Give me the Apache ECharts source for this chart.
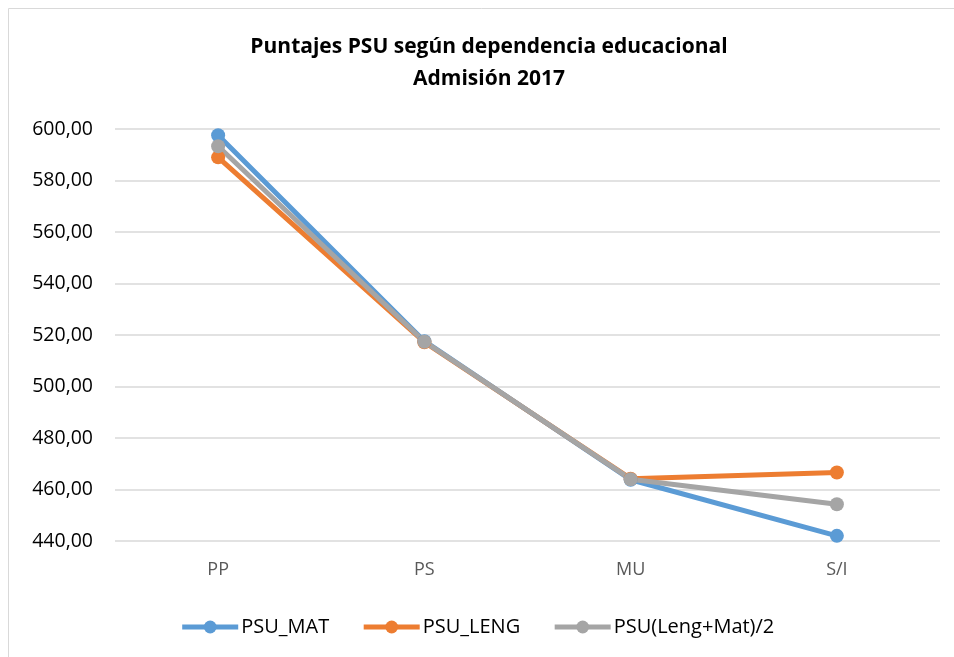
<!DOCTYPE html>
<html>
<head>
<meta charset="utf-8">
<script src="https://cdn.jsdelivr.net/npm/echarts@6/dist/echarts.min.js"></script>
<style>
  body { margin: 0; background: #fff; }
  #chart { width: 954px; height: 657px; }
</style>
</head>
<body>
<div id="chart"></div>
<script>
// datos
var categorias = ['PP', 'PS', 'MU', 'S/I'];
var psuMat = [597.6, 517.6, 463.8, 442.0];
var psuLeng = [589.0, 517.2, 464.2, 466.6];
var psuProm = [593.3, 517.4, 464.0, 454.3];
var nombres = ['PSU_MAT', 'PSU_LENG', 'PSU(Leng+Mat)/2'];
var colores = ['#5B9BD5', '#ED7D31', '#A5A5A5'];

var chart = echarts.init(document.getElementById('chart'));

function serie(i, datos) {
  return {
    name: nombres[i],
    type: 'line',
    data: datos,
    symbol: 'circle',
    symbolSize: 14,
    lineStyle: { width: 5, color: colores[i] },
    itemStyle: { color: colores[i] }
  };
}

var option = {
  animation: false,
  graphic: [{
    type: 'rect',
    shape: { x: 8.5, y: 8.5, width: 980, height: 680 },
    style: { fill: 'none', stroke: '#d9d9d9', lineWidth: 1 }
  }],
  title: {
    text: 'Puntajes PSU según dependencia educacional\nAdmisión 2017',
    left: 484,
    top: 26,
    textAlign: 'center',
    textStyle: {
      fontFamily: 'Open Sans',
      fontSize: 21,
      fontWeight: 'bold',
      color: '#000',
      lineHeight: 32
    }
  },
  legend: {
    top: 612,
    left: 'center',
    itemWidth: 56,
    itemHeight: 16,
    itemGap: 32,
    data: nombres,
    lineStyle: { width: 5 },
    textStyle: { fontFamily: 'Open Sans', fontSize: 20, color: '#000', padding: [0, 0, 0, -2] }
  },
  grid: { left: 115, right: 14, top: 129, bottom: 116, containLabel: false },
  xAxis: {
    type: 'category',
    data: categorias,
    axisLine: { show: false },
    axisTick: { show: false },
    axisLabel: { fontFamily: 'Open Sans', fontSize: 18, color: '#595959', margin: 20 }
  },
  yAxis: {
    type: 'value',
    min: 440,
    max: 600,
    interval: 20,
    axisLine: { show: false },
    axisTick: { show: false },
    splitLine: { lineStyle: { color: '#d9d9d9', width: 1.5 } },
    axisLabel: {
      fontFamily: 'Open Sans',
      fontSize: 19.5,
      color: '#000',
      margin: 22,
      formatter: function (v) { return v.toFixed(2).replace('.', ','); }
    }
  },
  series: [serie(0, psuMat), serie(1, psuLeng), serie(2, psuProm)]
};

chart.setOption(option);
</script>
</body>
</html>
